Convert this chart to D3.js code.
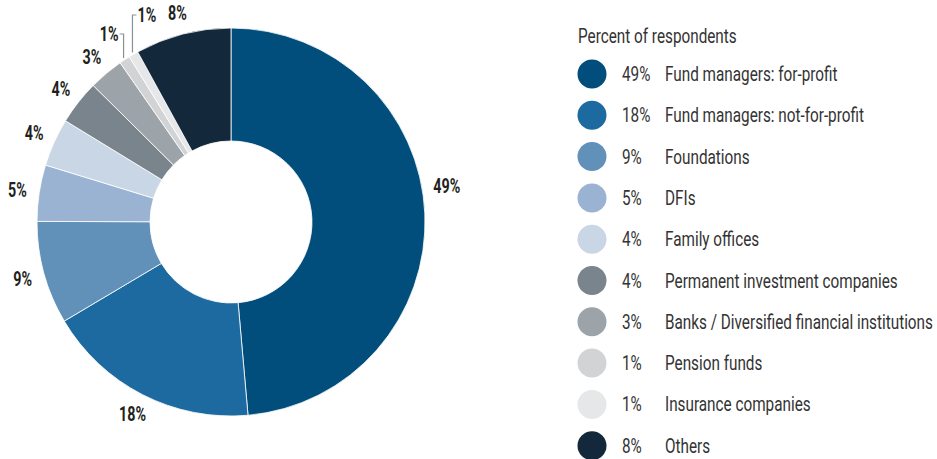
<!DOCTYPE html>
<html lang="en">
<head>
<meta charset="UTF-8">
<title>Percent of respondents</title>
<script src="https://cdn.jsdelivr.net/npm/d3@7"></script>
<style>
  body { margin: 0; background: #fff; }
  svg { display: block; }
  text { font-family: "Roboto", "Liberation Sans", sans-serif; }
</style>
</head>
<body>
<svg width="937" height="459"></svg>
<script>
// data
var categories = ["Fund managers: for-profit", "Fund managers: not-for-profit", "Foundations", "DFIs",
  "Family offices", "Permanent investment companies", "Banks / Diversified financial institutions",
  "Pension funds", "Insurance companies", "Others"];
var values = [48.7, 17.9, 8.6, 4.7, 4.0, 3.7, 2.9, 0.9, 0.8, 8.0];
var colors = ["#014d7b", "#1c6aa0", "#6190b9", "#9ab3d2", "#c9d6e6", "#7a848d", "#9da4a9", "#d1d3d5", "#e6e7e8", "#13293b"];
var legendTitle = "Percent of respondents";

var svg = d3.select("svg");
var cx = 231, cy = 222, R = 194, r = 81;

// the original uses a condensed face; squeeze Roboto horizontally to match
function squeeze(sample, size, weight, target) {
  var t = svg.append("text").style("font-size", size + "px").style("font-weight", weight).text(sample);
  var w = t.node().getComputedTextLength();
  t.remove();
  return target / w;
}
var kLegend = squeeze("Banks / Diversified financial institutions", 20, "normal", 268);
var kLabel = squeeze("49%", 20, "bold", 27);

// put a squeezed text at x,y
function put(parent, x, y, str, opt) {
  return parent.append("text")
    .attr("transform", "translate(" + x + "," + y + ") scale(" + opt.k + ",1)")
    .attr("text-anchor", opt.anchor || "start")
    .attr("dy", opt.dy == null ? "0.35em" : opt.dy)
    .style("font-size", opt.size + "px")
    .style("font-weight", opt.weight || "normal")
    .style("fill", opt.fill || "#333")
    .text(str);
}

var pie = d3.pie().sort(null).value(function (d) { return d.v; });
var rows = categories.map(function (c, i) { return { name: c, v: values[i], color: colors[i], i: i }; });
var arcs = pie(rows);

var arc = d3.arc().innerRadius(r).outerRadius(R);
var labelArc = d3.arc().innerRadius(216).outerRadius(216);

var g = svg.append("g").attr("transform", "translate(" + cx + "," + cy + ")");

g.selectAll("path")
  .data(arcs)
  .enter()
  .append("path")
  .attr("d", arc)
  .attr("fill", function (d) { return d.data.color; })
  .attr("stroke", "#fff")
  .attr("stroke-width", 0.8);

function pct(v) { return Math.round(v) + "%"; }

// normal labels
arcs.forEach(function (d) {
  if (d.data.i === 7 || d.data.i === 8) return;
  var c = labelArc.centroid(d);
  if (d.data.i === 0) c[1] -= 27;
  put(g, c[0], c[1], pct(d.data.v), { k: kLabel, size: 20, weight: "bold", anchor: "middle", fill: "#231f20" });
});

// the two 1% slices get leader lines
arcs.filter(function (d) { return d.data.i === 7 || d.data.i === 8; }).forEach(function (d) {
  var a = (d.startAngle + d.endAngle) / 2;
  var x0 = Math.sin(a) * (R + 2), y0 = -Math.cos(a) * (R + 2);
  var top = d.data.i === 7 ? -188 : -207;
  var side = d.data.i === 7 ? -4 : 4;
  g.append("path")
    .attr("d", "M" + x0 + "," + y0 + "V" + top + "h" + side)
    .attr("fill", "none")
    .attr("stroke", "#8a9196")
    .attr("stroke-width", 1.2);
  put(g, x0 + side + (side < 0 ? -1 : 1), top, pct(d.data.v),
    { k: kLabel, size: 20, weight: "bold", anchor: side < 0 ? "end" : "start", fill: "#231f20" });
});

// legend
var lg = svg.append("g").attr("transform", "translate(578,0)");
put(lg, 0, 43, legendTitle, { k: kLegend, size: 20, dy: 0 });

rows.forEach(function (d, i) {
  var y = 74 + i * 41.3;
  lg.append("circle")
    .attr("cx", 14)
    .attr("cy", y)
    .attr("r", 14.5)
    .attr("fill", d.color);
  put(lg, 44, y, pct(d.v), { k: kLegend, size: 20 });
  put(lg, 87, y, d.name, { k: kLegend, size: 20 });
});
</script>
</body>
</html>
